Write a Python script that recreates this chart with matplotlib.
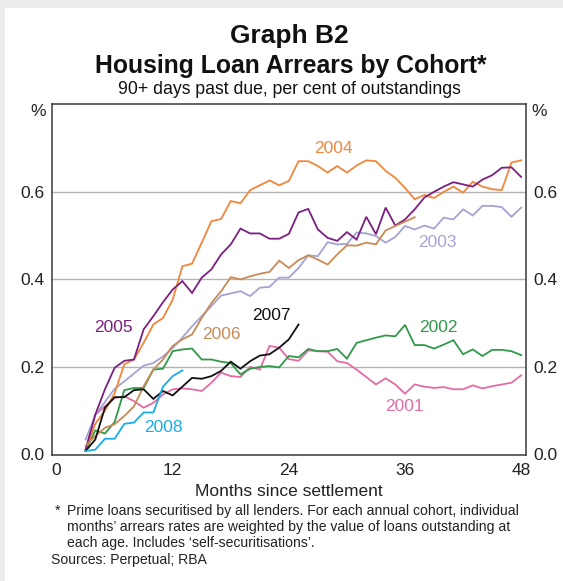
import matplotlib
matplotlib.use("Agg")
import matplotlib.pyplot as plt
from matplotlib.patches import Rectangle
from matplotlib.ticker import FixedLocator, NullFormatter

plt.rcParams['font.family'] = ['Liberation Sans', 'DejaVu Sans']

# ---- data (per cent of outstandings, by months since settlement) ----
start_month = 3
cohorts = ['2001', '2002', '2003', '2004', '2005', '2006', '2007', '2008']

arrears_2001 = [0.011, 0.091, 0.110, 0.129, 0.133, 0.122, 0.107, 0.118, 0.137, 0.149,
                0.151, 0.149, 0.145, 0.164, 0.187, 0.179, 0.177, 0.200, 0.194, 0.248,
                0.244, 0.218, 0.214, 0.238, 0.236, 0.235, 0.213, 0.209, 0.194, 0.177,
                0.160, 0.174, 0.160, 0.139, 0.160, 0.155, 0.152, 0.154, 0.149, 0.149,
                0.158, 0.151, 0.156, 0.160, 0.164, 0.181]
arrears_2002 = [0.008, 0.055, 0.048, 0.074, 0.147, 0.152, 0.152, 0.194, 0.196, 0.236,
                0.240, 0.242, 0.217, 0.217, 0.212, 0.209, 0.183, 0.196, 0.200, 0.202,
                0.199, 0.225, 0.222, 0.241, 0.236, 0.236, 0.241, 0.219, 0.255, 0.261,
                0.267, 0.272, 0.270, 0.296, 0.250, 0.250, 0.242, 0.251, 0.261, 0.229,
                0.240, 0.225, 0.239, 0.239, 0.236, 0.227]
arrears_2003 = [0.034, 0.090, 0.120, 0.150, 0.167, 0.185, 0.203, 0.209, 0.224, 0.243,
                0.267, 0.293, 0.316, 0.339, 0.363, 0.368, 0.373, 0.362, 0.381, 0.383,
                0.404, 0.404, 0.426, 0.455, 0.453, 0.485, 0.480, 0.481, 0.507, 0.505,
                0.499, 0.484, 0.497, 0.522, 0.514, 0.523, 0.516, 0.541, 0.537, 0.560,
                0.546, 0.568, 0.568, 0.565, 0.543, 0.564]
arrears_2004 = [0.010, 0.070, 0.100, 0.140, 0.206, 0.217, 0.255, 0.297, 0.312, 0.354,
                0.430, 0.436, 0.484, 0.533, 0.538, 0.579, 0.574, 0.604, 0.615, 0.626,
                0.615, 0.625, 0.670, 0.670, 0.659, 0.644, 0.659, 0.644, 0.660, 0.672,
                0.670, 0.648, 0.632, 0.609, 0.583, 0.593, 0.586, 0.600, 0.612, 0.598,
                0.623, 0.612, 0.606, 0.604, 0.667, 0.672]
arrears_2005 = [0.010, 0.091, 0.149, 0.198, 0.214, 0.217, 0.286, 0.316, 0.348, 0.377,
                0.396, 0.369, 0.404, 0.423, 0.457, 0.480, 0.516, 0.505, 0.505, 0.493,
                0.493, 0.504, 0.553, 0.561, 0.514, 0.495, 0.488, 0.508, 0.491, 0.543,
                0.503, 0.564, 0.523, 0.537, 0.560, 0.587, 0.600, 0.612, 0.622, 0.617,
                0.612, 0.628, 0.638, 0.655, 0.656, 0.634]
arrears_2006 = [0.020, 0.042, 0.061, 0.069, 0.088, 0.110, 0.156, 0.194, 0.217, 0.248,
                0.263, 0.274, 0.312, 0.346, 0.373, 0.405, 0.400, 0.407, 0.413, 0.417,
                0.443, 0.426, 0.444, 0.455, 0.445, 0.434, 0.457, 0.478, 0.477, 0.484,
                0.480, 0.512, 0.522, 0.532, 0.542]
arrears_2007 = [0.008, 0.034, 0.107, 0.131, 0.131, 0.147, 0.149, 0.127, 0.145, 0.135,
                0.155, 0.175, 0.173, 0.179, 0.191, 0.212, 0.196, 0.213, 0.226, 0.229,
                0.244, 0.263, 0.297]
arrears_2008 = [0.008, 0.011, 0.036, 0.036, 0.070, 0.073, 0.096, 0.096, 0.155, 0.179,
                0.192]

series = [arrears_2001, arrears_2002, arrears_2003, arrears_2004,
          arrears_2005, arrears_2006, arrears_2007, arrears_2008]
colors = ['#e46ba4', '#2f9a4a', '#a3a4d4', '#f2863a',
          '#7b1f80', '#c98a55', '#111111', '#19ade8']
label_pos = [(35.9, 0.109), (39.4, 0.290), (39.3, 0.484), (28.6, 0.699),
             (5.9, 0.290), (17.0, 0.273), (22.2, 0.318), (11.0, 0.061)]

x_ticks = [0, 12, 24, 36, 48]
y_ticks = [0.0, 0.2, 0.4, 0.6]

W, H = 563, 581
fig = plt.figure(figsize=(W / 100, H / 100), dpi=100, facecolor='#ececec')
fig.patches.append(Rectangle((5 / W, 0), 1, (H - 8) / H, transform=fig.transFigure,
                             facecolor='white', edgecolor='none', zorder=-10))

ax = fig.add_axes([51.7 / W, (H - 454.5) / H, (526 - 51.7) / W, (454.5 - 104.3) / H])
ax.set_facecolor('white')
ax.set_zorder(2)

for vals, c in zip(series, colors):
    months = list(range(start_month, start_month + len(vals)))
    ax.plot(months, vals, color=c, lw=1.3, solid_joinstyle='miter', zorder=3)

for name, c, (lx, ly) in zip(cohorts, colors, label_pos):
    ax.text(lx, ly, name, color=c, fontsize=12.5, ha='center', va='center', zorder=4)

ax.set_xlim(-0.5, 48.5)
ax.set_ylim(0, 0.8)
for y in [0.2, 0.4, 0.6]:
    ax.axhline(y, color='#b4b4b4', lw=1.0, zorder=1)

for s in ax.spines.values():
    s.set_color('#3a3a3a')
    s.set_linewidth(1.1)

ax.set_xticks(x_ticks)
ax.set_xticklabels([str(t) for t in x_ticks])
ax.xaxis.set_minor_locator(FixedLocator([12, 24, 36]))
ax.xaxis.set_minor_formatter(NullFormatter())
ax.tick_params(axis='x', which='major', length=0, pad=6, labelsize=12.5, colors='#222222')
ax.tick_params(axis='x', which='minor', length=6, direction='in', width=1, color='#3a3a3a')

ax.set_yticks(y_ticks)
ax.set_yticklabels(['%.1f' % t for t in y_ticks])
ax.tick_params(axis='y', which='both', length=0, pad=5, labelsize=12.5, colors='#222222',
               left=False, right=False, labelleft=True, labelright=True)

def fy(py):
    return 1 - py / H

fig.text(38.5 / W, fy(112), '%', fontsize=12.5, ha='center', va='center', color='#222222')
fig.text(539.5 / W, fy(112), '%', fontsize=12.5, ha='center', va='center', color='#222222')

fig.text(289 / W, fy(36), 'Graph B2', fontsize=19, fontweight='bold', ha='center',
         va='center', color='#111111')
fig.text(291 / W, fy(66), 'Housing Loan Arrears by Cohort*', fontsize=17.8, fontweight='bold',
         ha='center', va='center', color='#111111')
fig.text(289 / W, fy(89), '90+ days past due, per cent of outstandings', fontsize=12.7,
         ha='center', va='center', color='#111111')

fig.text(289 / W, fy(491), 'Months since settlement', fontsize=12.5, ha='center',
         va='center', color='#222222')

fs = 10.1
fig.text(55 / W, fy(511), '*', fontsize=fs, ha='left', va='center', color='#222222')
fig.text(67 / W, fy(511), 'Prime loans securitised by all lenders. For each annual cohort, individual',
         fontsize=fs, ha='left', va='center', color='#222222')
fig.text(67 / W, fy(527), 'months\u2019 arrears rates are weighted by the value of loans outstanding at',
         fontsize=fs, ha='left', va='center', color='#222222')
fig.text(67 / W, fy(543), 'each age. Includes \u2018self-securitisations\u2019.',
         fontsize=fs, ha='left', va='center', color='#222222')
fig.text(51 / W, fy(560), 'Sources: Perpetual; RBA', fontsize=fs, ha='left', va='center',
         color='#222222')

fig.savefig('out.png', dpi=100, facecolor=fig.get_facecolor())
